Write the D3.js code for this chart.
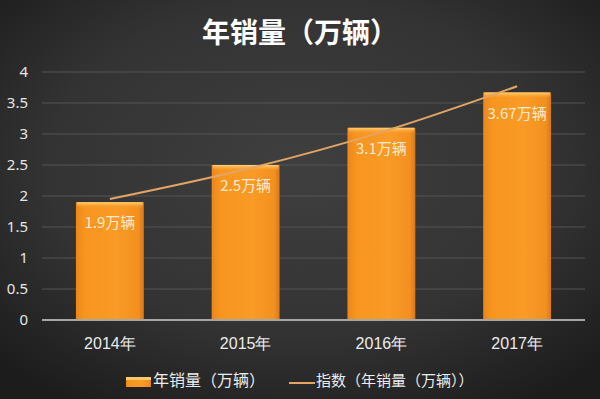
<!DOCTYPE html>
<html>
<head>
<meta charset="utf-8">
<script src="https://cdn.jsdelivr.net/npm/d3@7"></script>
<style>
  body { margin: 0; background: #262626; }
  svg { display: block; font-family: "Noto Sans CJK SC", "Noto Sans", sans-serif; }
</style>
</head>
<body>
<svg id="chart" width="600" height="399"></svg>
<script>
// data
const years = ['2014年', '2015年', '2016年', '2017年'];
const sales = [1.9, 2.5, 3.1, 3.67];
const salesLabels = ['1.9万辆', '2.5万辆', '3.1万辆', '3.67万辆'];
const trend = [1.95, 2.43, 3.03, 3.77];
const yTicks = [0, 0.5, 1, 1.5, 2, 2.5, 3, 3.5, 4];

const W = 600, H = 399;
var margin = {top: 72, right: 15, bottom: 79, left: 42},
    width = W - margin.left - margin.right,
    height = H - margin.top - margin.bottom;

const svg = d3.select('#chart');
const defs = svg.append('defs');

// dark background with soft light in the middle
const bg = defs.append('radialGradient')
    .attr('id', 'bg').attr('cx', '50%').attr('cy', '42%').attr('r', '70%');
bg.append('stop').attr('offset', '0%').attr('stop-color', '#3f3f3f');
bg.append('stop').attr('offset', '60%').attr('stop-color', '#333333');
bg.append('stop').attr('offset', '100%').attr('stop-color', '#1c1c1c');
svg.append('rect').attr('width', W).attr('height', H).attr('fill', 'url(#bg)');

// bar fill
const barGrad = defs.append('linearGradient')
    .attr('id', 'barGrad').attr('x1', '0%').attr('x2', '100%');
barGrad.append('stop').attr('offset', '0%').attr('stop-color', '#ec851c');
barGrad.append('stop').attr('offset', '12%').attr('stop-color', '#f7951f');
barGrad.append('stop').attr('offset', '60%').attr('stop-color', '#f99b26');
barGrad.append('stop').attr('offset', '92%').attr('stop-color', '#f39020');
barGrad.append('stop').attr('offset', '100%').attr('stop-color', '#d9781a');
const topGrad = defs.append('linearGradient')
    .attr('id', 'topGrad').attr('x1', '0%').attr('x2', '0%').attr('y1', '0%').attr('y2', '100%');
topGrad.append('stop').attr('offset', '0%').attr('stop-color', '#ffd27a');
topGrad.append('stop').attr('offset', '100%').attr('stop-color', '#f99b26').attr('stop-opacity', 0);

// title
svg.append('text')
    .text('年销量（万辆）')
    .attr('x', W / 2)
    .attr('y', 43)
    .attr('text-anchor', 'middle')
    .style('fill', '#ffffff')
    .style('font-size', '28px')
    .style('font-weight', 'bold');

const g = svg.append('g')
    .attr('transform', 'translate(' + margin.left + ',' + margin.top + ')');

var x = d3.scaleBand()
    .range([0, width])
    .domain(years)
    .paddingInner(0.5)
    .paddingOuter(0.25);

var y = d3.scaleLinear()
    .domain([0, 4])
    .range([height, 0]);

// gridlines
g.selectAll('.grid')
    .data(yTicks.slice(1))
    .enter()
    .append('line')
    .attr('x1', 0).attr('x2', width)
    .attr('y1', d => y(d)).attr('y2', d => y(d))
    .style('stroke', '#545454')
    .style('stroke-width', 1);

// y axis labels
const yAxis = g.append('g')
    .call(d3.axisLeft(y).tickValues(yTicks).tickSize(0).tickPadding(14).tickFormat(d3.format('')));
yAxis.select('.domain').remove();
yAxis.selectAll('text')
    .style('fill', '#e6e6e6')
    .style('font-size', '15px')
    .style('font-family', '"Noto Sans", sans-serif');

// bars
g.selectAll('.bar')
    .data(years)
    .enter()
    .append('rect')
    .attr('x', d => x(d))
    .attr('y', (d, i) => y(sales[i]))
    .attr('width', x.bandwidth())
    .attr('height', (d, i) => height - y(sales[i]))
    .attr('fill', 'url(#barGrad)');

g.selectAll('.bartop')
    .data(years)
    .enter()
    .append('rect')
    .attr('x', d => x(d) + 1)
    .attr('y', (d, i) => y(sales[i]))
    .attr('width', x.bandwidth() - 2)
    .attr('height', 6)
    .attr('fill', 'url(#topGrad)');

// value labels inside bars
g.selectAll('.vlabel')
    .data(years)
    .enter()
    .append('text')
    .text((d, i) => salesLabels[i])
    .attr('x', d => x(d) + x.bandwidth() / 2)
    .attr('y', (d, i) => y(sales[i]) + 22)
    .attr('text-anchor', 'middle')
    .attr('dominant-baseline', 'middle')
    .style('fill', '#fdebd0')
    .style('font-size', '15px');

// baseline
g.append('line')
    .attr('x1', 0).attr('x2', width)
    .attr('y1', y(0)).attr('y2', y(0))
    .style('stroke', '#a6a6a6')
    .style('stroke-width', 2);

// x axis labels
const xAxis = g.append('g')
    .attr('transform', 'translate(0,' + height + ')')
    .call(d3.axisBottom(x).tickSize(0).tickPadding(18));
xAxis.select('.domain').remove();
xAxis.selectAll('text')
    .style('fill', '#ececec')
    .style('font-size', '16px');

// exponential trend line
const line = d3.line()
    .x((d, i) => x(years[i]) + x.bandwidth() / 2)
    .y(d => y(d))
    .curve(d3.curveMonotoneX);
g.append('path')
    .datum(trend)
    .attr('d', line)
    .attr('fill', 'none')
    .style('stroke', '#e3a566')
    .style('stroke-width', 2);

// legend
const leg = svg.append('g').attr('transform', 'translate(0,382)');
leg.append('rect')
    .attr('x', 126).attr('y', -5)
    .attr('width', 25).attr('height', 10)
    .attr('fill', 'url(#barGrad)');
leg.append('rect')
    .attr('x', 126).attr('y', -5)
    .attr('width', 25).attr('height', 3)
    .attr('fill', '#ffc86e');
leg.append('text')
    .text('年销量（万辆）')
    .attr('x', 153).attr('y', 0)
    .attr('dominant-baseline', 'middle')
    .style('fill', '#ececec')
    .style('font-size', '16px');
leg.append('line')
    .attr('x1', 289).attr('x2', 315)
    .attr('y1', 1).attr('y2', 1)
    .style('stroke', '#e3a566')
    .style('stroke-width', 2);
leg.append('text')
    .text('指数（年销量（万辆））')
    .attr('x', 316).attr('y', 0)
    .attr('dominant-baseline', 'middle')
    .style('fill', '#ececec')
    .style('font-size', '15px');
</script>
</body>
</html>
